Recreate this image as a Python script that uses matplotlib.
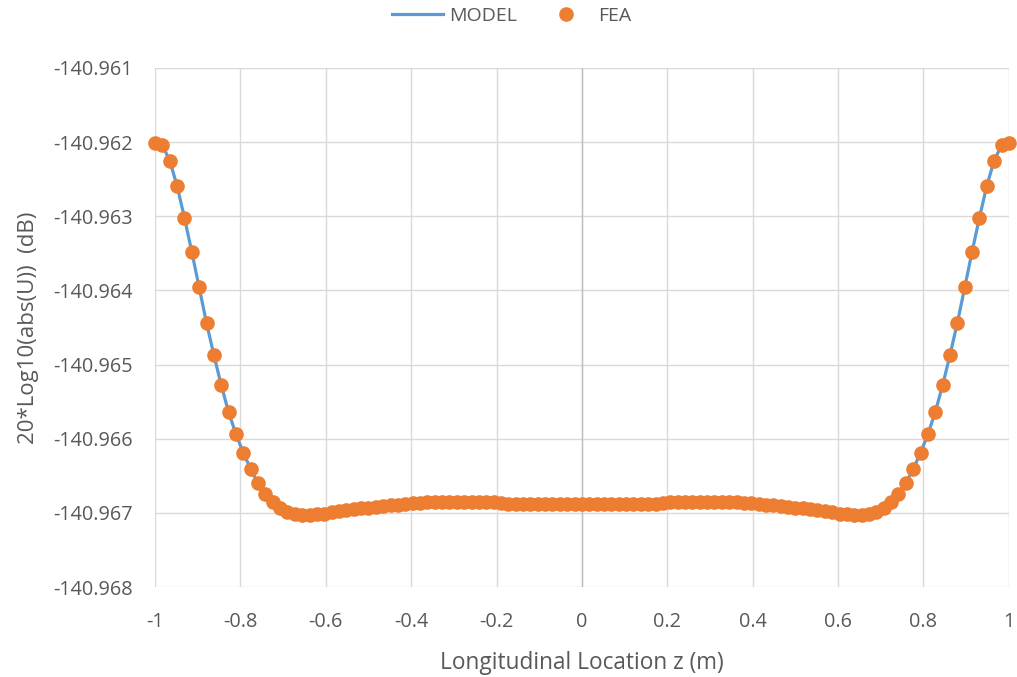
import numpy as np
import matplotlib.pyplot as plt
from matplotlib.ticker import FuncFormatter, MultipleLocator

## Data (117 nodes from z=-1 to z=1)
z = np.linspace(-1, 1, 117)

u_db = [
    -140.96201, -140.96204, -140.96225, -140.96259, -140.96302, -140.96348, -140.96396, -140.96444,
    -140.96487, -140.96528, -140.96564, -140.96594, -140.96619, -140.96641, -140.96660, -140.96674,
    -140.96685, -140.96693, -140.96699, -140.96702, -140.96703, -140.96703, -140.96702, -140.96701,
    -140.96699, -140.96698, -140.96696, -140.96695, -140.96694, -140.96693, -140.96692, -140.96691,
    -140.96690, -140.96689, -140.96688, -140.96687, -140.96687, -140.96686, -140.96686, -140.96686,
    -140.96686, -140.96686, -140.96686, -140.96686, -140.96686, -140.96686, -140.96686, -140.96687,
    -140.96688, -140.96688, -140.96688, -140.96688, -140.96688, -140.96688, -140.96688, -140.96688,
    -140.96688, -140.96688, -140.96688,
    -140.96688, -140.96688, -140.96688, -140.96688, -140.96688, -140.96688, -140.96688, -140.96688,
    -140.96688, -140.96688, -140.96687, -140.96686, -140.96686, -140.96686, -140.96686, -140.96686,
    -140.96686, -140.96686, -140.96686, -140.96686, -140.96686, -140.96687, -140.96687, -140.96688,
    -140.96689, -140.96690, -140.96691, -140.96692, -140.96693, -140.96694, -140.96695, -140.96696,
    -140.96698, -140.96699, -140.96701, -140.96702, -140.96703, -140.96703, -140.96702, -140.96699,
    -140.96693, -140.96685, -140.96674, -140.96660, -140.96641, -140.96619, -140.96594, -140.96564,
    -140.96528, -140.96487, -140.96444, -140.96396, -140.96348, -140.96302, -140.96259, -140.96225,
    -140.96204, -140.96201,
]

model_db = u_db
fea_db = u_db

txt = '#595959'
plt.rcParams['font.family'] = ['Open Sans', 'DejaVu Sans']

fig = plt.figure(figsize=(10.17, 6.77), dpi=100)
ax = fig.add_axes([0.1524, 0.1329, 0.8396, 0.7667])

ax.plot(z, model_db, color='#5B9BD5', lw=2.3, label='MODEL', zorder=3)
ax.plot(z, fea_db, ls='none', marker='o', ms=9.5, color='#ED7D31', label='FEA', zorder=4, clip_on=False)

ax.set_xlim(-1, 1)
ax.set_ylim(-140.968, -140.961)
ax.xaxis.set_major_locator(MultipleLocator(0.2))
ax.yaxis.set_major_locator(MultipleLocator(0.001))
ax.xaxis.set_major_formatter(FuncFormatter(lambda v, p: f'{v:g}' if abs(v) > 1e-9 else '0'))
ax.yaxis.set_major_formatter(FuncFormatter(lambda v, p: f'{v:.3f}'))

ax.grid(True, color='#d9d9d9', lw=1)
ax.axvline(0, color='#bfbfbf', lw=1, zorder=1)
ax.set_axisbelow(True)
for s in ax.spines.values():
    s.set_visible(False)
ax.tick_params(length=0, labelsize=14.3, colors=txt, pad=16)
ax.tick_params(axis='x', pad=18)

ax.set_xlabel('Longitudinal Location z (m)', fontsize=16.3, color=txt, labelpad=14)
ax.set_ylabel('20*Log10(abs(U))  (dB)', fontsize=16, color=txt, labelpad=10)

leg = fig.legend(loc='upper center', bbox_to_anchor=(0.503, 1.016), ncol=2, frameon=False,
                 fontsize=14, handlelength=2.6, columnspacing=1.2, handletextpad=0.35)
for t in leg.get_texts():
    t.set_color(txt)

fig.savefig('out.png', dpi=100)
